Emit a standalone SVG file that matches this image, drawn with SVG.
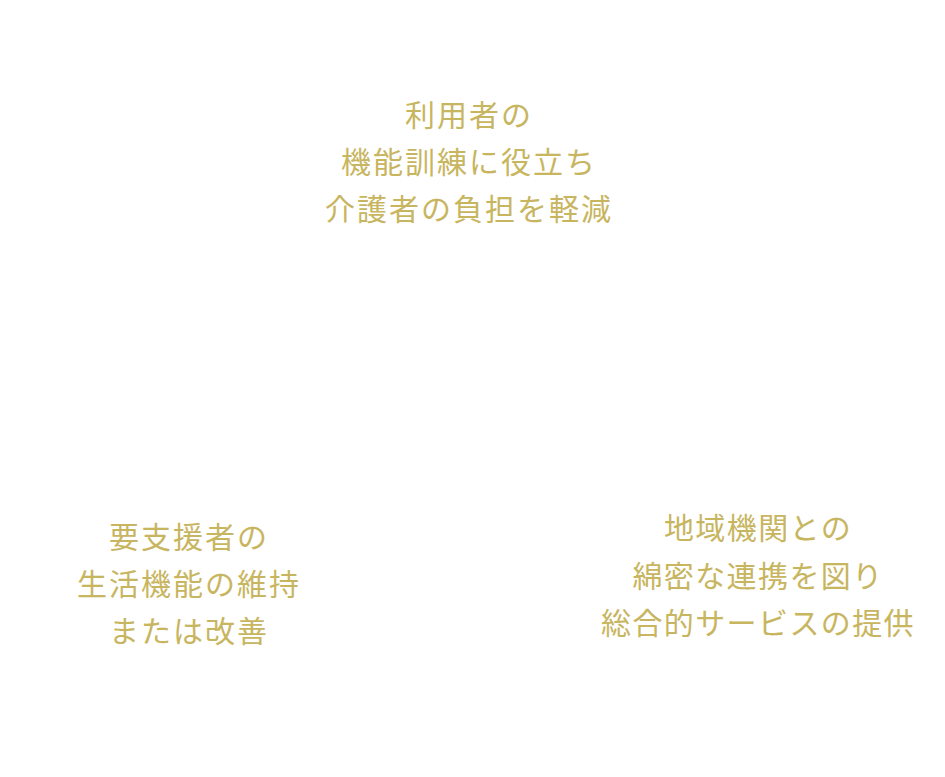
<svg xmlns="http://www.w3.org/2000/svg" width="945" height="777" viewBox="0 0 945 777">
<style>
.t{font-family:"Noto Sans CJK JP","Noto Sans CJK SC",sans-serif;font-size:30px;fill:#c8b560;text-anchor:middle;letter-spacing:2px}
.r{letter-spacing:1.4px}
</style>
<rect width="945" height="777" fill="#ffffff"/>
<g id="node-top">
<text class="t" x="469" y="126">利用者の</text>
<text class="t" x="469" y="173">機能訓練に役立ち</text>
<text class="t" x="469" y="220">介護者の負担を軽減</text>
</g>
<g id="node-left">
<text class="t" x="189" y="548">要支援者の</text>
<text class="t" x="189" y="595">生活機能の維持</text>
<text class="t" x="189" y="642">または改善</text>
</g>
<g id="node-right">
<text class="t r" x="758" y="539">地域機関との</text>
<text class="t r" x="758" y="587">綿密な連携を図り</text>
<text class="t r" x="758" y="634">総合的サービスの提供</text>
</g>
<g id="connectors"></g>
</svg>
